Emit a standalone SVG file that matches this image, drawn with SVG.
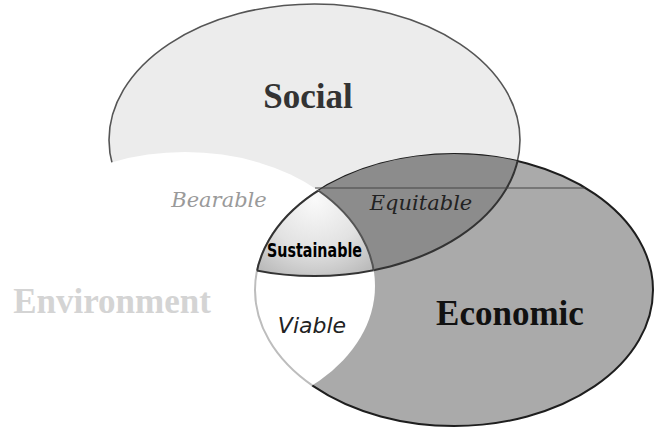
<svg xmlns="http://www.w3.org/2000/svg" width="654" height="430" viewBox="0 0 654 430">
  <style>
    .big { font-family: "Liberation Serif", "Times New Roman", serif; font-weight: bold; font-size: 35px; text-anchor: middle; }
    .it { font-family: "DejaVu Serif", serif; font-style: italic; font-size: 21px; text-anchor: middle; }
  </style>
  <defs>
    <clipPath id="cSoc"><ellipse cx="314.5" cy="140" rx="205.5" ry="136"/></clipPath>
    <clipPath id="cEco"><ellipse cx="454" cy="290" rx="199" ry="136"/></clipPath>
    <clipPath id="cEnv"><ellipse cx="185" cy="286" rx="190" ry="134"/></clipPath>
    <radialGradient id="gSus" cx="315" cy="200" r="90" gradientUnits="userSpaceOnUse">
      <stop offset="0" stop-color="#fafafa"/>
      <stop offset="0.55" stop-color="#e2e2e2"/>
      <stop offset="1" stop-color="#b8b8b8"/>
    </radialGradient>
  </defs>
  <rect width="654" height="430" fill="#ffffff"/>

  <g id="social">
    <ellipse cx="314.5" cy="140" rx="205.5" ry="136" fill="#ececec" stroke="#555" stroke-width="1.6"/>
  </g>

  <g id="economic">
    <ellipse cx="454" cy="290" rx="199" ry="136" fill="#aaaaaa" stroke="#1e1e1e" stroke-width="2"/>
  </g>

  <g id="equitable-region" clip-path="url(#cEco)">
    <ellipse cx="314.5" cy="140" rx="205.5" ry="136" fill="#8c8c8c" stroke="#333" stroke-width="2"/>
  </g>

  <g id="environment">
    <ellipse cx="185" cy="286" rx="190" ry="134" fill="#ffffff"/>
    <g clip-path="url(#cEnv)">
      <ellipse cx="454" cy="290" rx="199" ry="136" fill="none" stroke="#bdbdbd" stroke-width="2"/>
    </g>
  </g>

  <g id="sustainable-region" clip-path="url(#cSoc)">
    <g clip-path="url(#cEco)">
      <ellipse cx="185" cy="286" rx="190" ry="134" fill="url(#gSus)" stroke="#555" stroke-width="2"/>
    </g>
  </g>
  <g clip-path="url(#cEnv)">
    <g clip-path="url(#cSoc)">
      <ellipse cx="454" cy="290" rx="199" ry="136" fill="none" stroke="#333" stroke-width="2"/>
    </g>
    <g clip-path="url(#cEco)">
      <ellipse cx="314.5" cy="140" rx="205.5" ry="136" fill="none" stroke="#333" stroke-width="2"/>
    </g>
  </g>

  <g id="connectors">
    <line x1="315" y1="188" x2="585" y2="188" stroke="#444" stroke-width="1"/>
  </g>

  <g id="labels">
    <text class="big" x="308" y="108" fill="#333">Social</text>
    <text class="big" x="510" y="325" fill="#111">Economic</text>
    <text class="big" x="112" y="313" fill="#d4d4d4" font-size="36">Environment</text>
    <text class="it" x="219" y="207" fill="#9a9a9a">Bearable</text>
    <text class="it" x="421" y="210" fill="#222">Equitable</text>
    <text x="312" y="333" fill="#222" font-family="DejaVu Sans, sans-serif" font-style="italic" font-size="22" text-anchor="middle">Viable</text>
    <text x="267" y="257" fill="#000" font-family="DejaVu Sans Condensed, DejaVu Sans, sans-serif" font-weight="bold" font-size="20" textLength="95" lengthAdjust="spacingAndGlyphs">Sustainable</text>
  </g>
</svg>
